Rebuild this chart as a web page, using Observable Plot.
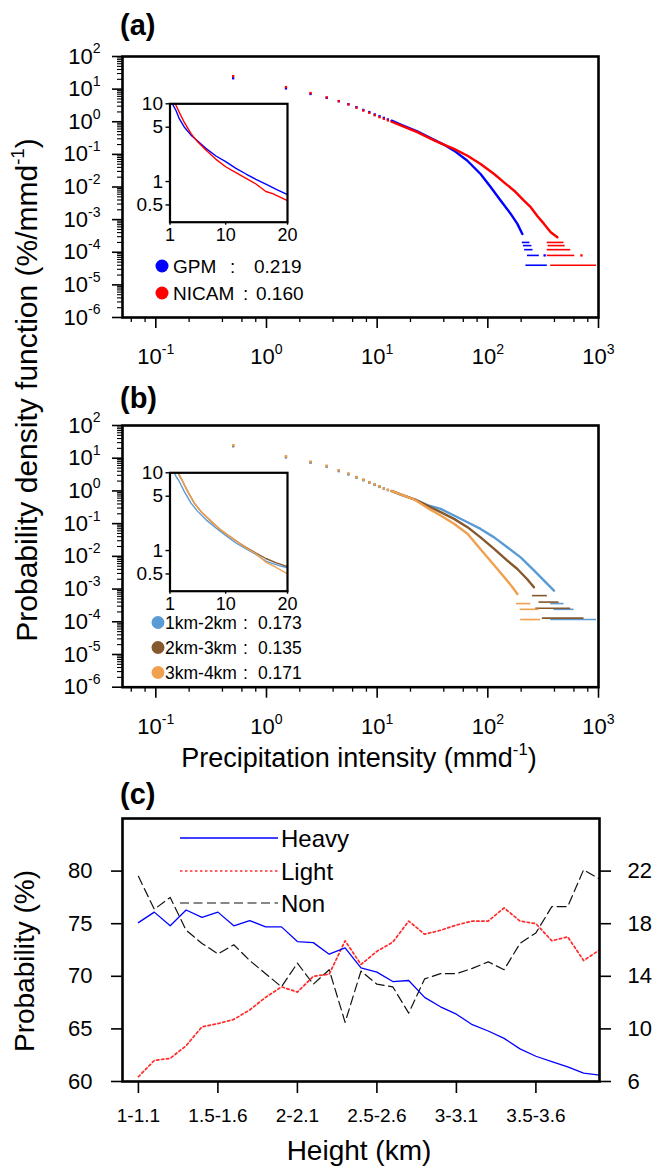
<!DOCTYPE html>
<html><head><meta charset="utf-8">
<script src="https://cdn.jsdelivr.net/npm/d3@7"></script>
<script src="https://cdn.jsdelivr.net/npm/@observablehq/plot@0.6"></script>
<style>
body{margin:0;background:#fff;}
#root{position:relative;width:655px;height:1166px;overflow:hidden;background:#fff;font-family:"Liberation Sans",Arial,Helvetica,sans-serif;}
</style></head><body><div id="root"></div>
<script>
// ================= DATA =================
// Panel (a): PDF of precipitation intensity (bin centres, mm/d)
const binDotX = [0.5,1.5,2.5,3.5,4.5,5.5,6.5,7.5,8.5,9.5,10.5,11.5,12.5];
const gpmDotY   = [21.5,10.5,7.1,5.4,4.25,3.45,2.8,2.3,1.98,1.68,1.48,1.32,1.18];
const nicamDotY = [25,11.6,7.6,5.6,4.3,3.4,2.7,2.2,1.88,1.58,1.38,1.23,1.1];
const gpmCurveX = [13.5,16.3,23,32.7,40,49.5,65,86,106,131,161,185,205];
const gpmCurveY = [1.08,0.82,0.51,0.28,0.2,0.13,0.065,0.025,0.01,0.0038,0.0015,7.4e-4,3.6e-4];
const nicamCurveX = [13.5,16.3,23,32.7,40,49.5,65.5,86,114,140,173,212,244,280,322,370,425];
const nicamCurveY = [1.0,0.77,0.48,0.27,0.2,0.148,0.091,0.051,0.025,0.0139,0.0077,0.0038,0.0024,0.0013,7.4e-4,4.1e-4,2.9e-4];
const gpmTailY  = [4e-5,8e-5,1.2e-4,1.6e-4,2e-4];
const gpmTailX1 = [221,228,215,210,205];
const gpmTailX2 = [345,292,256,250,240];
const nicamTailY  = [4e-5,8e-5,1.2e-4,1.6e-4,2e-4];
const nicamTailX1 = [370,344,344,350,344];
const nicamTailX2 = [960,610,561,500,488];
const gpmExtraX = [326], gpmExtraY = [8e-5];
const nicamExtraX = [701], nicamExtraY = [8e-5];
// inset (a)
const gpmInsetX = [1.4,1.97,2.5,3.3,4.4,5.47,6.8,8.43,10,11.66,13.3,14.9,16.5,18.1,20];
const gpmInsetY = [10,8.2,6.44,5.04,3.95,3.33,2.67,2.13,1.8,1.48,1.25,1.07,0.925,0.8,0.68];
const nicamInsetX = [1.85,2.5,3.3,4.4,5.47,6.8,8.43,10,11.66,13.3,14.9,16.5,17.6,20];
const nicamInsetY = [10,7.8,5.8,4.14,3.24,2.54,1.93,1.55,1.30,1.10,0.93,0.745,0.70,0.57];
const aLegendNames = ["GPM","NICAM"];
const aLegendValues = ["0.219","0.160"];

// Panel (b)
const h12DotY = [23,10.5,7.2,5.4,4.0,3.15,2.5,2.1,1.78,1.52,1.32,1.15,1.05];
const h23DotY = [24.5,11.2,7.7,5.8,4.3,3.35,2.65,2.2,1.86,1.58,1.37,1.19,1.08];
const h34DotY = [25,11.3,7.8,5.8,4.3,3.35,2.65,2.2,1.85,1.57,1.36,1.18,1.07];
const h12CurveX = [13.5,16.3,22,28.4,37.5,49.5,65.5,86,114,150,198,261,322,396];
const h12CurveY = [0.98,0.77,0.545,0.37,0.283,0.177,0.11,0.069,0.038,0.019,0.0093,0.0037,0.0018,8.9e-4];
const h23CurveX = [13.5,16.3,22,28.4,37.5,49.5,65.5,86,114,150,185,227,261];
const h23CurveY = [1.0,0.78,0.545,0.355,0.224,0.14,0.078,0.038,0.017,0.0074,0.0041,0.002,0.00113];
const h34CurveX = [13.5,16.3,22,28.4,37.5,49.5,65.5,80.5,99,122,145,167,185];
const h34CurveY = [0.99,0.78,0.53,0.304,0.177,0.0986,0.049,0.0214,0.0094,0.0041,0.00205,0.00114,7.1e-4];
const h12TailY = [1.17e-4,2.4e-4,3.6e-4];
const h12TailX1 = [370,396,370];
const h12TailX2 = [960,601,488];
const h23TailY = [1.29e-4,2.6e-4,4e-4,6.3e-4];
const h23TailX1 = [311,271,290,253];
const h23TailX2 = [740,561,440,345];
const h34TailY = [1.17e-4,2.4e-4,3.6e-4];
const h34TailX1 = [198,196,182];
const h34TailX2 = [300,290,244];
// inset (b)
const h12InsetX = [1.7,1.97,2.5,3.3,4.4,5.47,6.8,8.43,10,11.66,13.3,14.9,16.5,17.3,18.65,20];
const h12InsetY = [10,9.0,7.74,5.76,4.08,3.19,2.5,1.95,1.57,1.25,1.05,0.89,0.73,0.695,0.64,0.6];
const h23InsetX = [2.3,3.05,3.85,4.93,6.0,7.35,8.97,10.6,12.2,13.3,14.9,16.5,18.1,20];
const h23InsetY = [10,7.74,5.76,4.08,3.19,2.5,1.91,1.53,1.25,1.10,0.93,0.79,0.70,0.62];
const h34InsetY = [10,7.74,5.76,4.08,3.19,2.5,1.91,1.52,1.24,1.08,0.91,0.71,0.61,0.50];
const bLegendNames = ["1km-2km","2km-3km","3km-4km"];
const bLegendValues = ["0.173","0.135","0.171"];

// Panel (c)
const heightCats = ["1-1.1","1.1-1.2","1.2-1.3","1.3-1.4","1.4-1.5","1.5-1.6","1.6-1.7","1.7-1.8","1.8-1.9","1.9-2",
  "2-2.1","2.1-2.2","2.2-2.3","2.3-2.4","2.4-2.5","2.5-2.6","2.6-2.7","2.7-2.8","2.8-2.9","2.9-3",
  "3-3.1","3.1-3.2","3.2-3.3","3.3-3.4","3.4-3.5","3.5-3.6","3.6-3.7","3.7-3.8","3.8-3.9","3.9-4"];
const heavyLeft = [75.1,76.1,74.8,76.3,75.6,76.1,74.8,75.3,74.7,74.7,73.3,73.2,72.1,72.7,70.8,70.4,69.5,69.6,68.0,67.1,66.4,65.4,64.8,64.1,63.1,62.4,61.9,61.4,60.8,60.6];
const lightRight = [6.36,7.6,7.76,8.72,10.16,10.4,10.72,11.44,12.4,13.2,12.8,14.0,14.16,16.7,14.9,15.9,16.6,18.2,17.2,17.5,17.9,18.2,18.2,19.2,18.2,18.0,16.7,17.0,15.2,16.0];
const nonRight = [21.6,19.1,20.0,17.5,16.5,15.7,16.4,15.2,14.2,13.2,15.0,13.4,14.5,10.5,14.4,13.4,13.2,11.2,13.8,14.2,14.2,14.6,15.1,14.5,16.5,17.3,19.3,19.3,22.1,21.4];
const leftTicks = [60,65,70,75,80];
const rightTicks = [6,10,14,18,22];
const catTickIdx = [0,5,10,15,20,25];
const cLegend = ["Heavy","Light","Non"];

// ================= HELPERS =================
const FONT = '"Liberation Sans", Arial, Helvetica, sans-serif';
const root = document.getElementById("root");
const rows = (xs, ys) => xs.map((x,i) => ({x, y: ys[i]}));
const segs = (ys, a, b) => ys.map((y,i) => ({y, x1: a[i], x2: b[i]}));
const xMajor = [0.1,1,10,100,1000];
const xMinor = [0.06,0.08,0.2,0.4,0.6,0.8,2,4,6,8,20,40,60,80,200,400,600,800];
const yMajor = [1e-6,1e-5,1e-4,1e-3,1e-2,1e-1,1,10,100];
const yMinor = [];
for (let e = -6; e < 2; e++) for (let k = 2; k <= 9; k++) yMinor.push(k * Math.pow(10, e));
const supFmt = d => "10^" + Math.round(Math.log10(d));
const SVGNS = "http://www.w3.org/2000/svg";

function fixSup(svg) {
  svg.querySelectorAll("text").forEach(t => {
    const m = /^10\^(-?\d+)$/.exec(t.textContent);
    if (m) {
      t.textContent = "10";
      const ts = document.createElementNS(SVGNS, "tspan");
      ts.setAttribute("dy", "-0.72em");
      ts.setAttribute("font-size", "0.64em");
      ts.textContent = m[1];
      t.appendChild(ts);
    }
  });
}
function place(el, left, top) {
  el.style.position = "absolute";
  el.style.left = left + "px";
  el.style.top = top + "px";
  el.style.background = "transparent";
  el.style.overflow = "visible";
  root.appendChild(el);
}

function mainPanel(series, height, marginTop, marginBottom) {
  const marks = [];
  for (const s of series) {
    marks.push(Plot.ruleY(s.tail, {y: "y", x1: "x1", x2: "x2", stroke: s.color, strokeWidth: 1.6}));
    marks.push(Plot.line(s.curve, {x: "x", y: "y", stroke: s.color, strokeWidth: 2.4}));
    marks.push(Plot.dot(s.dots, {x: "x", y: "y", fill: s.color, r: 1.3, symbol: "square"}));
  }
  marks.push(
    Plot.axisX({ticks: xMinor, tickSize: 5, tickFormat: () => "", strokeWidth: 1.3, label: null}),
    Plot.axisX({ticks: xMajor, tickSize: 11, tickPadding: 20, tickFormat: supFmt, fontSize: 22, strokeWidth: 1.6, label: null}),
    Plot.axisY({ticks: yMinor, tickSize: 5, tickFormat: () => "", strokeWidth: 1.1, label: null}),
    Plot.axisY({ticks: yMajor, tickSize: 10, tickPadding: 12, tickFormat: supFmt, fontSize: 22, strokeWidth: 1.6, label: null}),
    Plot.frame({stroke: "black", strokeWidth: 2.6})
  );
  const svg = Plot.plot({
    width: 655, height, marginLeft: 122, marginRight: 57, marginTop, marginBottom,
    x: {type: "log", domain: [0.05, 1000]},
    y: {type: "log", domain: [1e-6, 100]},
    style: {fontFamily: FONT, background: "transparent", overflow: "visible", color: "black"},
    marks
  });
  fixSup(svg);
  return svg;
}

function insetPanel(curves) {
  const marks = curves.map(c => Plot.line(c.data, {x: "x", y: "y", stroke: c.color, strokeWidth: 1.4}));
  marks.push(
    Plot.axisX({ticks: [1,10,20], tickSize: 3, tickPadding: 3, fontSize: 18, strokeWidth: 1.4, label: null}),
    Plot.axisY({ticks: [0.5,1,5,10], tickSize: 4, tickPadding: 3, fontSize: 19, strokeWidth: 1.4, tickFormat: d => String(d), label: null}),
    Plot.frame({stroke: "black", strokeWidth: 2.2})
  );
  return Plot.plot({
    width: 180, height: 170, marginLeft: 49.5, marginRight: 13, marginTop: 13.3, marginBottom: 38.3,
    x: {domain: [1, 20]},
    y: {type: "log", domain: [0.3, 10]},
    style: {fontFamily: FONT, background: "transparent", overflow: "visible", color: "black"},
    marks
  });
}

// ================= PANEL A =================
const BLUE = "#0000ff", RED = "#ff0000";
const svgA = mainPanel([
  {color: BLUE, dots: rows(binDotX, gpmDotY).concat(rows(gpmExtraX, gpmExtraY)), curve: rows(gpmCurveX, gpmCurveY), tail: segs(gpmTailY, gpmTailX1, gpmTailX2)},
  {color: RED, dots: rows(binDotX, nicamDotY).concat(rows(nicamExtraX, nicamExtraY)), curve: rows(nicamCurveX, nicamCurveY), tail: segs(nicamTailY, nicamTailX1, nicamTailX2)}
], 380, 56, 63);
place(svgA, 0, 0);
place(insetPanel([
  {color: BLUE, data: rows(gpmInsetX, gpmInsetY)},
  {color: RED, data: rows(nicamInsetX, nicamInsetY)}
]), 120, 90);

// ================= PANEL B =================
const LB = "#5b9bd5", BR = "#85582d", OR = "#f0a04e";
const svgB = mainPanel([
  {color: LB, dots: rows(binDotX, h12DotY), curve: rows(h12CurveX, h12CurveY), tail: segs(h12TailY, h12TailX1, h12TailX2)},
  {color: BR, dots: rows(binDotX, h23DotY), curve: rows(h23CurveX, h23CurveY), tail: segs(h23TailY, h23TailX1, h23TailX2)},
  {color: OR, dots: rows(binDotX, h34DotY), curve: rows(h34CurveX, h34CurveY), tail: segs(h34TailY, h34TailX1, h34TailX2)}
], 420, 55, 103.3);
place(svgB, 0, 370);
place(insetPanel([
  {color: LB, data: rows(h12InsetX, h12InsetY)},
  {color: BR, data: rows(h23InsetX, h23InsetY)},
  {color: OR, data: rows(h23InsetX, h34InsetY)}
]), 120, 459);

// ================= PANEL C =================
const toLeft = r => 60 + (r - 6) * 1.25;   // right axis (6..26) -> left axis (60..85)
const heavyRows = heavyLeft.map((v,i) => ({i, v}));
const lightRows = lightRight.map((v,i) => ({i, v}));
const nonRows = nonRight.map((v,i) => ({i, v}));
const svgC = Plot.plot({
  width: 655, height: 396, marginLeft: 122, marginRight: 56, marginTop: 48, marginBottom: 85,
  x: {domain: [-1, 29]},
  y: {domain: [60, 85]},
  style: {fontFamily: FONT, background: "transparent", overflow: "visible", color: "black"},
  marks: [
    Plot.line(nonRows, {x: "i", y: d => toLeft(d.v), stroke: "#111", strokeWidth: 1.2, strokeDasharray: "9,4.5"}),
    Plot.line(lightRows, {x: "i", y: d => toLeft(d.v), stroke: "#ff2b2b", strokeWidth: 1.7, strokeDasharray: "2.4,2.6"}),
    Plot.line(heavyRows, {x: "i", y: "v", stroke: BLUE, strokeWidth: 1.3}),
    Plot.axisX({ticks: catTickIdx, tickSize: 12, tickPadding: 15, fontSize: 19, strokeWidth: 1.6, tickFormat: i => heightCats[i], label: null}),
    Plot.axisY({ticks: leftTicks, tickSize: 11, tickPadding: 19, fontSize: 22, strokeWidth: 1.6, label: null}),
    Plot.axisY({anchor: "right", ticks: leftTicks, tickSize: 11, tickPadding: 17, fontSize: 22, strokeWidth: 1.6, tickFormat: d => rightTicks[leftTicks.indexOf(d)], label: null}),
    Plot.frame({stroke: "black", strokeWidth: 2.6})
  ]
});
place(svgC, 0, 770);

// ================= TEXT / LEGENDS OVERLAY =================
const ov = d3.create("svg").attr("width", 655).attr("height", 1166)
  .style("position", "absolute").style("left", "0px").style("top", "0px").style("pointer-events", "none")
  .style("font-family", FONT);
function txt(x, y, s, size, opts = {}) {
  const t = ov.append("text").attr("x", x).attr("y", y).attr("font-size", size).attr("fill", "black").text(s);
  if (opts.bold) t.attr("font-weight", "bold");
  if (opts.anchor) t.attr("text-anchor", opts.anchor);
  return t;
}
txt(120, 35, "(a)", 29, {bold: true});
txt(120, 408, "(b)", 29, {bold: true});
txt(120, 804, "(c)", 29, {bold: true});

// Y title for (a)/(b)
const yt = ov.append("text").attr("transform", "translate(37,390) rotate(-90)").attr("text-anchor", "middle")
  .attr("font-size", 30).text("Probability density function (%/mmd");
yt.append("tspan").attr("dy", "-0.72em").attr("font-size", "0.62em").text("-1");
yt.append("tspan").attr("dy", "0.45em").text(")");
// X title for (a)/(b)
const xt = ov.append("text").attr("x", 359).attr("y", 767).attr("text-anchor", "middle").attr("font-size", 27)
  .text("Precipitation intensity (mmd");
xt.append("tspan").attr("dy", "-0.72em").attr("font-size", "0.62em").text("-1");
xt.append("tspan").attr("dy", "0.45em").text(")");
// (c) titles
ov.append("text").attr("transform", "translate(34,961) rotate(-90)").attr("text-anchor", "middle")
  .attr("font-size", 28).text("Probability (%)");
txt(359, 1160, "Height (km)", 28, {anchor: "middle"});

// legend (a)
const aCols = [BLUE, RED];
const aY = [266, 293];
const aColonX = [230, 243];
const aValX = [254, 256];
aLegendNames.forEach((n, i) => {
  ov.append("circle").attr("cx", 162).attr("cy", aY[i]).attr("r", 6.5).attr("fill", aCols[i]);
  txt(173, aY[i] + 7, n, 19);
  txt(aColonX[i], aY[i] + 7, ":", 19);
  txt(aValX[i], aY[i] + 7, aLegendValues[i], 19);
});
// legend (b)
const bCols = [LB, BR, OR];
const bY = [622.5, 647.5, 672.5];
bLegendNames.forEach((n, i) => {
  ov.append("circle").attr("cx", 158).attr("cy", bY[i]).attr("r", 6.5).attr("fill", bCols[i]);
  txt(165, bY[i] + 6.3, n, 17.5);
  txt(243, bY[i] + 6.3, ":", 17.5);
  txt(258, bY[i] + 6.3, bLegendValues[i], 17.5);
});
// legend (c)
const cY = [838, 871, 903];
const cStyles = [
  {stroke: BLUE, w: 1.3, dash: null},
  {stroke: "#ff2b2b", w: 1.7, dash: "2.4,2.6"},
  {stroke: "#111", w: 1.2, dash: "9,4.5"}
];
cLegend.forEach((n, i) => {
  const l = ov.append("line").attr("x1", 180).attr("x2", 278).attr("y1", cY[i]).attr("y2", cY[i])
    .attr("stroke", cStyles[i].stroke).attr("stroke-width", cStyles[i].w);
  if (cStyles[i].dash) l.attr("stroke-dasharray", cStyles[i].dash);
  txt(281, cY[i] + 8.6, n, 24);
});
root.appendChild(ov.node());
</script></body></html>
